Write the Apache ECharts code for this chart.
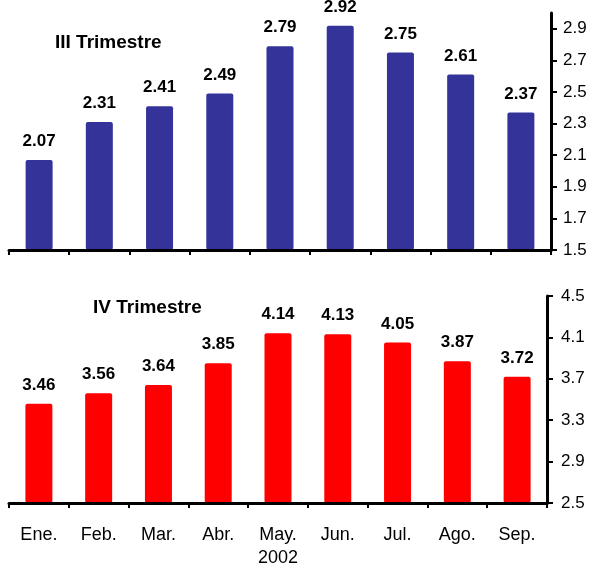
<!DOCTYPE html>
<html>
<head>
<meta charset="utf-8">
<script src="https://cdn.jsdelivr.net/npm/echarts@6/dist/echarts.min.js"></script>
<style>
  html, body { margin: 0; padding: 0; background: #fff; }
  #chart { width: 592px; height: 570px; }
</style>
</head>
<body>
<div id="chart"></div>
<script>
// Monthly values, 2002
const months = ['Ene.', 'Feb.', 'Mar.', 'Abr.', 'May.', 'Jun.', 'Jul.', 'Ago.', 'Sep.'];
const year = '2002';
const trimIII = [2.07, 2.31, 2.41, 2.49, 2.79, 2.92, 2.75, 2.61, 2.37];
const trimIV = [3.46, 3.56, 3.64, 3.85, 4.14, 4.13, 4.05, 3.87, 3.72];
const ticksIII = [1.5, 1.7, 1.9, 2.1, 2.3, 2.5, 2.7, 2.9];
const ticksIV = [2.5, 2.9, 3.3, 3.7, 4.1, 4.5];

const FONT = 'Arial, "Liberation Sans", sans-serif';
const INK = '#000';

const chart = echarts.init(document.getElementById('chart'), null, { renderer: 'canvas' });

function xAxisFor(gridIndex, showLabels) {
  return {
    type: 'category',
    gridIndex: gridIndex,
    data: months,
    z: 5,
    axisLine: { lineStyle: { color: INK, width: 3 } },
    axisTick: { show: true, length: 5, lineStyle: { color: INK, width: 2 } },
    axisLabel: {
      show: showLabels,
      margin: 21,
      color: INK,
      fontFamily: FONT,
      fontSize: 18,
      lineHeight: 23,
      formatter: v => (v === 'May.' ? v + '\n' + year : v)
    }
  };
}

function yAxisFor(gridIndex, min, max, interval, ticks, margin) {
  return {
    type: 'value',
    gridIndex: gridIndex,
    position: 'right',
    min: min,
    max: max,
    interval: interval,
    z: 5,
    splitLine: { show: false },
    axisLine: { show: true, lineStyle: { color: INK, width: 3 } },
    axisTick: { show: true, length: 6, lineStyle: { color: INK, width: 2 }, customValues: ticks },
    axisLabel: {
      color: INK,
      fontFamily: FONT,
      fontSize: 17,
      margin: margin,
      customValues: ticks,
      formatter: v => Number(v).toFixed(1)
    }
  };
}

function barSeries(axisIndex, values, color) {
  return {
    type: 'bar',
    xAxisIndex: axisIndex,
    yAxisIndex: axisIndex,
    data: values,
    barWidth: 27,
    itemStyle: { color: color, borderRadius: 2 },
    label: {
      show: true,
      position: 'top',
      distance: 10,
      color: INK,
      fontFamily: FONT,
      fontWeight: 'bold',
      fontSize: 17,
      formatter: p => p.value.toFixed(2)
    }
  };
}

chart.setOption({
  backgroundColor: '#fff',
  animation: false,
  title: [
    {
      text: 'III Trimestre',
      left: 55, top: 33, padding: 0,
      textStyle: { fontFamily: FONT, fontWeight: 'bold', fontSize: 19, color: INK }
    },
    {
      text: 'IV Trimestre',
      left: 93, top: 298, padding: 0,
      textStyle: { fontFamily: FONT, fontWeight: 'bold', fontSize: 19, color: INK }
    }
  ],
  grid: [
    { left: 9, right: 41, top: 13, height: 237 },
    { left: 9, right: 45, top: 296, height: 213 }
  ],
  xAxis: [xAxisFor(0, false), xAxisFor(1, true)],
  yAxis: [
    yAxisFor(0, 1.5, 3.0, 0.2, ticksIII, 12),
    yAxisFor(1, 2.5, 4.5, 0.4, ticksIV, 14)
  ],
  series: [
    barSeries(0, trimIII, '#333399'),
    barSeries(1, trimIV, '#ff0000')
  ]
});
</script>
</body>
</html>
